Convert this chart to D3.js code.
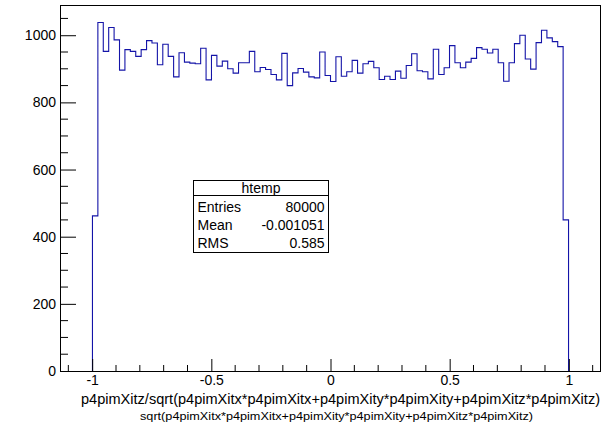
<!DOCTYPE html>
<html><head><meta charset="utf-8">
<script src="https://cdn.jsdelivr.net/npm/d3@7"></script>
<style>
html,body{margin:0;padding:0;background:#fff;}
text{font-family:"Liberation Sans",Arial,Helvetica,sans-serif;fill:#000;}
</style></head>
<body>
<svg id="c" width="603" height="428"></svg>
<script>
// Histogram definition
const xRange = [-1.135, 1.135];
const nBins = 100;
const yMax = 1090;
const counts = [
  0,0,0,0,0,0,462,1038,952,1023,
  986,896,957,952,937,957,984,977,912,973,
  937,876,948,920,917,915,961,867,940,908,
  923,900,887,918,918,952,891,904,898,883,
  867,946,850,888,901,890,876,873,950,880,
  862,936,878,891,925,887,915,922,903,868,
  878,868,893,872,910,945,894,891,870,958,
  883,903,969,918,903,920,931,963,958,947,
  958,918,863,918,975,1000,929,899,978,1015,
  992,981,966,450,0,0,0,0,0,0
];
const xTicks = [-1, -0.5, 0, 0.5, 1];
const xTickLabels = ["-1", "-0.5", "0", "0.5", "1"];
const yTicks = [0, 200, 400, 600, 800, 1000];
const xTitle = "p4pimXitz/sqrt(p4pimXitx*p4pimXitx+p4pimXity*p4pimXity+p4pimXitz*p4pimXitz)";
const subTitle = "sqrt(p4pimXitx*p4pimXitx+p4pimXity*p4pimXity+p4pimXitz*p4pimXitz)";
const statsTitle = "htemp";
const statsNames = ["Entries", "Mean", "RMS"];
const statsValues = ["80000", "-0.001051", "0.585"];

const svg = d3.select("#c");
const L = 60, R = 601, T = 5, B = 371;
const x = d3.scaleLinear().domain(xRange).range([L, R]);
const y = d3.scaleLinear().domain([0, yMax]).range([B, T]);
const bw = (xRange[1] - xRange[0]) / nBins;

// histogram step path (zero-content edge bins lie on the axis)
const first = counts.findIndex(c => c > 0);
let last = counts.length - 1;
while (last > 0 && counts[last] === 0) last--;
let p = d3.path();
p.moveTo(x(xRange[0] + first * bw), y(0));
for (let i = first; i <= last; i++) {
  const x0 = x(xRange[0] + i * bw), x1 = x(xRange[0] + (i + 1) * bw);
  p.lineTo(x0, y(counts[i]));
  p.lineTo(x1, y(counts[i]));
}
p.lineTo(x(xRange[0] + (last + 1) * bw), y(0));
svg.append("path").attr("d", p.toString())
  .attr("fill", "none").attr("stroke", "#1414a8").attr("stroke-width", 1.1);

// axes
const yAxis = d3.axisLeft(y).tickValues(yTicks).tickSize(-16).tickPadding(20).tickFormat(d3.format("d"));
const yMinor = d3.range(0, yMax + 1, 50).filter(v => v % 200 !== 0);
const gy = svg.append("g").attr("transform", `translate(${L},0)`).call(yAxis);
gy.select(".domain").remove();
gy.selectAll("text").attr("x", -4).attr("font-size", 14).attr("font-family", "Liberation Sans, Arial, sans-serif");
gy.selectAll("line").attr("stroke", "#000");
svg.append("g").selectAll("line").data(yMinor).join("line")
  .attr("x1", L).attr("x2", L + 8).attr("y1", d => y(d)).attr("y2", d => y(d)).attr("stroke", "#000");

const xAxis = d3.axisBottom(x).tickValues(xTicks).tickSize(-12).tickFormat((d, i) => xTickLabels[i]);
const gx = svg.append("g").attr("transform", `translate(0,${B})`).call(xAxis);
gx.select(".domain").remove();
gx.selectAll("text").attr("y", 4).attr("dy", "0.71em").attr("font-size", 14).attr("font-family", "Liberation Sans, Arial, sans-serif");
gx.selectAll("line").attr("stroke", "#000");
const xMinor = d3.range(-11, 12).map(v => v / 10).filter(v => Math.abs(v * 2 - Math.round(v * 2)) > 1e-6);
svg.append("g").selectAll("line").data(xMinor).join("line")
  .attr("x1", d => x(d)).attr("x2", d => x(d)).attr("y1", B).attr("y2", B - 6).attr("stroke", "#000");

// frame
svg.append("rect").attr("x", L + 0.5).attr("y", T + 0.5).attr("width", R - L - 1).attr("height", B - T)
  .attr("fill", "none").attr("stroke", "#000").attr("stroke-width", 1);

// titles
svg.append("text").attr("x", 600).attr("y", 404).attr("text-anchor", "end")
  .attr("font-size", 14).attr("textLength", 519).attr("lengthAdjust", "spacingAndGlyphs").text(xTitle);
svg.append("text").attr("x", 140).attr("y", 420)
  .attr("font-size", 11).attr("textLength", 393).attr("lengthAdjust", "spacingAndGlyphs").text(subTitle);

// stats box
const sb = {x: 193.5, y: 180.5, w: 135, h: 72};
const gs = svg.append("g");
gs.append("rect").attr("x", sb.x).attr("y", sb.y).attr("width", sb.w).attr("height", sb.h)
  .attr("fill", "#fff").attr("stroke", "#000");
gs.append("line").attr("x1", sb.x).attr("x2", sb.x + sb.w).attr("y1", sb.y + 15).attr("y2", sb.y + 15).attr("stroke", "#000");
gs.append("text").attr("x", sb.x + sb.w / 2).attr("y", sb.y + 12).attr("text-anchor", "middle").attr("font-size", 14).text(statsTitle);
statsNames.forEach((n, i) => {
  gs.append("text").attr("x", sb.x + 4).attr("y", sb.y + 31 + i * 18).attr("font-size", 14).text(n);
  gs.append("text").attr("x", sb.x + sb.w - 4).attr("y", sb.y + 31 + i * 18).attr("text-anchor", "end").attr("font-size", 14).text(statsValues[i]);
});
</script>
</body></html>
